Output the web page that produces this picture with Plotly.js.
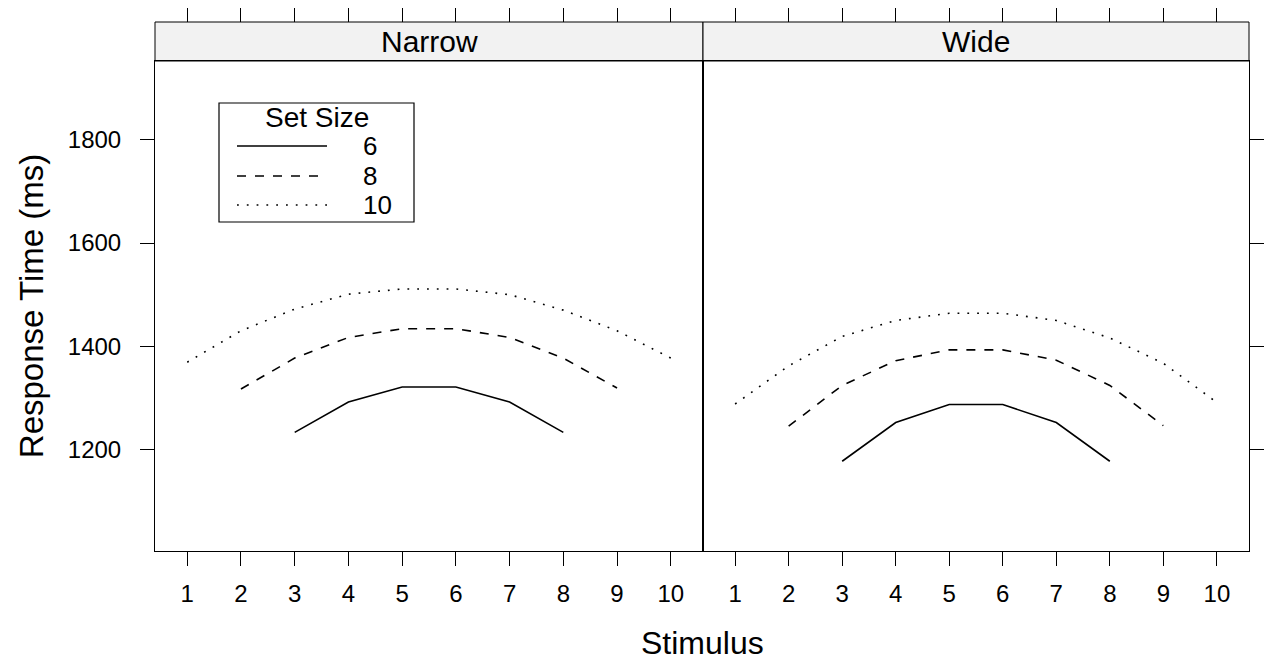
<!DOCTYPE html>
<html>
<head>
<meta charset="utf-8">
<script src="https://cdn.plot.ly/plotly-3.0.1.min.js"></script>
<style>html,body{margin:0;padding:0;background:#fff;}#chart{width:1264px;height:665px;}</style>
</head>
<body>
<div id="chart"></div>
<script>
// ---- data ----
const panels = ["Narrow", "Wide"];
const setSizes = ["6", "8", "10"];
const stimulusTicks = [1, 2, 3, 4, 5, 6, 7, 8, 9, 10];
const yTicks = [1200, 1400, 1600, 1800];

const x6 = [3, 4, 5, 6, 7, 8];
const x8 = [2, 3, 4, 5, 6, 7, 8, 9];
const x10 = [1, 2, 3, 4, 5, 6, 7, 8, 9, 10];

const narrow6 = [1233, 1292, 1321, 1321, 1292, 1233];
const narrow8 = [1317, 1377, 1417, 1434, 1434, 1417, 1377, 1319];
const narrow10 = [1369, 1430, 1472, 1501, 1511, 1511, 1500, 1470, 1430, 1377];

const wide6 = [1177, 1252, 1287, 1287, 1252, 1177];
const wide8 = [1245, 1324, 1372, 1393, 1393, 1373, 1324, 1246];
const wide10 = [1288, 1362, 1419, 1450, 1464, 1464, 1450, 1416, 1367, 1291];

// ---- geometry (pixels) ----
const W = 1264, H = 665;
const L = 155, R = 15, T = 22, B = 114;
const plotW = W - L - R, plotH = H - T - B;
const px = v => (v - L) / plotW;
const py = v => (H - B - v) / plotH;
const split = px(703);
const yTop = py(61);

const dashes = ["solid", "9px,9px", "1.8px,8px"];
const lw = 1.6;
const FONT = "Liberation Sans, Arial, Helvetica, sans-serif";

const seriesX = [x6, x8, x10];
const narrowY = [narrow6, narrow8, narrow10];
const wideY = [wide6, wide8, wide10];

const traces = [];
setSizes.forEach((s, i) => {
  traces.push({x: seriesX[i], y: narrowY[i], xaxis: "x", yaxis: "y", type: "scatter", mode: "lines",
    name: s, showlegend: false, line: {color: "black", width: lw, dash: dashes[i]}, hoverinfo: "skip"});
  traces.push({x: seriesX[i], y: wideY[i], xaxis: "x2", yaxis: "y2", type: "scatter", mode: "lines",
    name: s, showlegend: false, line: {color: "black", width: lw, dash: dashes[i]}, hoverinfo: "skip"});
});
// empty carriers so the top tick axes are drawn
traces.push({x: [null], y: [null], xaxis: "x3", yaxis: "y", type: "scatter", mode: "lines", showlegend: false, hoverinfo: "skip"});
traces.push({x: [null], y: [null], xaxis: "x4", yaxis: "y2", type: "scatter", mode: "lines", showlegend: false, hoverinfo: "skip"});

const xr = [0.4, 10.6];
const yr = [1003, 1953];
const tickfont = {family: FONT, size: 24, color: "black"};

const xBase = {range: xr, tickmode: "array", tickvals: stimulusTicks, ticktext: stimulusTicks.map(String),
  ticks: "outside", ticklen: 14, tickwidth: 1, tickcolor: "black", showline: true, mirror: true,
  linecolor: "black", linewidth: 1, showgrid: false, zeroline: false, tickfont: tickfont, ticklabelstandoff: 7};
const xTopBase = {range: xr, tickmode: "array", tickvals: stimulusTicks, ticks: "outside", ticklen: 14,
  tickwidth: 1, tickcolor: "black", showline: false, showgrid: false, zeroline: false, showticklabels: false,
  side: "top", anchor: "free", position: 1};
const yBase = {range: yr, tickmode: "array", tickvals: yTicks, ticktext: yTicks.map(String), ticks: "outside",
  ticklen: 14, tickwidth: 1, tickcolor: "black", showline: true, mirror: true, linecolor: "black", linewidth: 1,
  showgrid: false, zeroline: false, tickfont: tickfont, domain: [0, yTop], ticklabelstandoff: 14};

const shapes = [
  {type: "rect", xref: "paper", yref: "paper", x0: 0, x1: split, y0: yTop, y1: 1, fillcolor: "#F2F2F2", line: {color: "black", width: 1}, layer: "below"},
  {type: "rect", xref: "paper", yref: "paper", x0: split, x1: 1, y0: yTop, y1: 1, fillcolor: "#F2F2F2", line: {color: "black", width: 1}, layer: "below"},
  // legend box
  {type: "rect", xref: "paper", yref: "paper", x0: px(219), x1: px(414), y0: py(222), y1: py(103), fillcolor: "white", line: {color: "black", width: 1.2}}
];
const legY = [146, 176, 205];
setSizes.forEach((s, i) => {
  shapes.push({type: "line", xref: "paper", yref: "paper", x0: px(237), x1: px(327), y0: py(legY[i]), y1: py(legY[i]),
    line: {color: "black", width: lw, dash: dashes[i]}});
});

const annotations = [
  {xref: "paper", yref: "paper", x: split / 2, y: (yTop + 1) / 2, text: panels[0], showarrow: false,
    font: {family: FONT, size: 30, color: "black"}, xanchor: "center", yanchor: "middle"},
  {xref: "paper", yref: "paper", x: (split + 1) / 2, y: (yTop + 1) / 2, text: panels[1], showarrow: false,
    font: {family: FONT, size: 30, color: "black"}, xanchor: "center", yanchor: "middle"},
  {xref: "paper", yref: "paper", x: 0.5, y: py(643), text: "Stimulus", showarrow: false,
    font: {family: FONT, size: 32, color: "black"}, xanchor: "center", yanchor: "middle"},
  {xref: "paper", yref: "paper", x: px(317), y: py(117), text: "Set Size", showarrow: false,
    font: {family: FONT, size: 28, color: "black"}, xanchor: "center", yanchor: "middle", borderpad: 0}
];
setSizes.forEach((s, i) => {
  annotations.push({xref: "paper", yref: "paper", x: px(362), y: py(legY[i]), text: s, showarrow: false,
    font: {family: FONT, size: 26, color: "black"}, xanchor: "left", yanchor: "middle", borderpad: 0});
});

const layout = {
  width: W, height: H,
  margin: {l: L, r: R, t: T, b: B, pad: 0},
  paper_bgcolor: "white", plot_bgcolor: "white",
  font: {family: FONT, color: "black"},
  showlegend: false,
  xaxis: Object.assign({}, xBase, {domain: [0, split], anchor: "y"}),
  xaxis2: Object.assign({}, xBase, {domain: [split, 1], anchor: "y2"}),
  xaxis3: Object.assign({}, xTopBase, {overlaying: "x", domain: [0, split]}),
  xaxis4: Object.assign({}, xTopBase, {overlaying: "x2", domain: [split, 1]}),
  yaxis: Object.assign({}, yBase, {anchor: "x", side: "left",
    title: {text: "Response Time (ms)", font: {family: FONT, size: 33, color: "black"}, standoff: 14}}),
  yaxis2: Object.assign({}, yBase, {anchor: "x2", side: "right", showticklabels: false}),
  shapes: shapes,
  annotations: annotations
};

Plotly.newPlot("chart", traces, layout, {staticPlot: true, displayModeBar: false});
</script>
</body>
</html>
